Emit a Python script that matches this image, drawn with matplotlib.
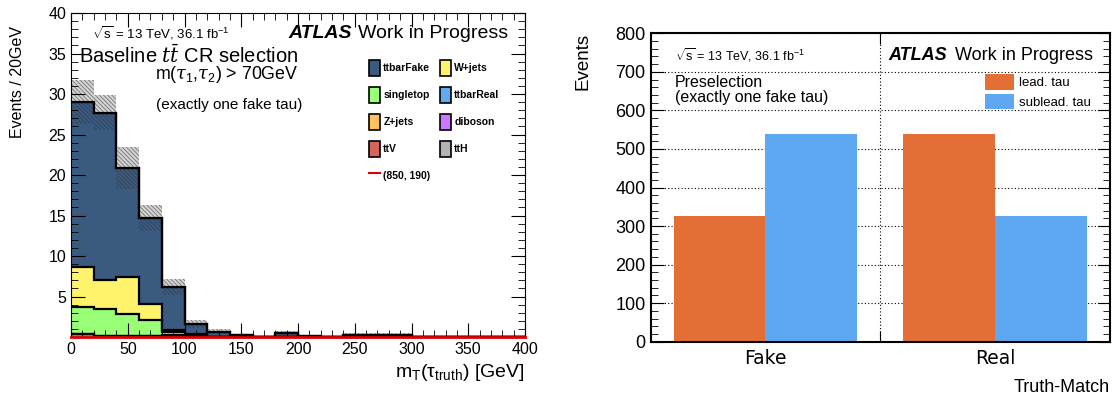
import matplotlib
matplotlib.use("Agg")
import matplotlib.pyplot as plt
import numpy as np
from matplotlib.patches import Patch
from matplotlib.lines import Line2D
from matplotlib.ticker import MultipleLocator

plt.rcParams['font.family'] = ['Liberation Sans', 'DejaVu Sans']
plt.rcParams['mathtext.fontset'] = 'custom'
plt.rcParams['mathtext.rm'] = 'Liberation Sans'
plt.rcParams['mathtext.it'] = 'DejaVu Serif:italic'
plt.rcParams['hatch.linewidth'] = 0.6

# ---- left panel data: mT(tau_truth), 20 GeV bins from 0 to 400 ----
edges = np.arange(0, 420, 20)
ttH       = [0.03, 0.02, 0.02, 0.01, 0.02, 0.01, 0, 0, 0, 0, 0, 0, 0, 0, 0, 0, 0, 0, 0, 0]
ttV       = [0.02, 0.02, 0.01, 0.01, 0.02, 0.01, 0, 0, 0, 0, 0, 0, 0, 0, 0, 0, 0, 0, 0, 0]
diboson   = [0.01, 0.01, 0.00, 0.00, 0.01, 0.00, 0, 0, 0, 0, 0, 0, 0, 0, 0, 0, 0, 0, 0, 0]
ttbarReal = [0.30, 0.10, 0.05, 0.05, 0.10, 0.05, 0.01, 0, 0, 0, 0, 0, 0, 0, 0, 0, 0, 0, 0, 0]
zjets     = [0.05, 0.03, 0.02, 0.02, 0.05, 0.02, 0, 0, 0, 0, 0, 0, 0, 0, 0, 0, 0, 0, 0, 0]
singletop = [3.29, 3.27, 2.70, 1.96, 0.40, 0.11, 0.02, 0, 0, 0, 0, 0, 0, 0, 0, 0, 0, 0, 0, 0]
wjets     = [4.90, 3.55, 4.60, 2.05, 0.25, 0.15, 0.02, 0, 0, 0, 0, 0, 0, 0, 0, 0, 0, 0, 0, 0]
ttbarFake = [20.4, 20.7, 13.5, 10.6, 5.35, 1.25, 0.60, 0.20, 0.05, 0.45, 0.08, 0.0,
             0.30, 0.30, 0.30, 0, 0, 0, 0, 0]
uncert    = [2.7, 2.2, 2.6, 1.6, 1.0, 0.5, 0.3, 0.12, 0.05, 0.25, 0.05, 0.0,
             0.15, 0.15, 0.15, 0, 0, 0, 0, 0]

# stack order bottom -> top
stack = [("ttH", ttH, "#b3b3b3"),
         ("ttV", ttV, "#d6645a"),
         ("diboson", diboson, "#cc77ff"),
         ("ttbarReal", ttbarReal, "#62aaee"),
         ("Z+jets", zjets, "#ffc25c"),
         ("singletop", singletop, "#99ff77"),
         ("W+jets", wjets, "#fff36b"),
         ("ttbarFake", ttbarFake, "#3a5a80")]

# ---- right panel data ----
categories = ["Fake", "Real"]
lead_tau = [327, 538]
sublead_tau = [539, 327]

fig = plt.figure(figsize=(11.13, 3.96), dpi=100)


def atlas_label(axis, x, y, size, gap):
    # "ATLAS" in bold italic, followed by "Work in Progress", right aligned at x
    t = axis.text(x, y, "Work in Progress", transform=axis.transAxes,
                  fontsize=size, ha="right", va="center")
    axis.annotate("ATLAS", xy=(0, 0.5), xycoords=t, xytext=(-gap, 0),
                  textcoords="offset points", fontsize=size, fontweight="bold",
                  fontstyle="italic", ha="right", va="center")


# ================= left =================
ax = fig.add_axes([0.0638, 0.149, 0.4079, 0.818])
bottom = np.zeros(len(edges) - 1)
for name, vals, col in stack:
    top = bottom + np.array(vals)
    ax.stairs(top, edges, baseline=bottom, fill=True, color=col, lw=0)
    bottom = top
# outlines
bottom = np.zeros(len(edges) - 1)
for name, vals, col in stack:
    top = bottom + np.array(vals)
    if np.any(np.array(vals) > 0.04):
        ax.stairs(top, edges, baseline=None, color="black", lw=1.6)
    bottom = top
total = bottom
unc = np.array(uncert)
xs = np.repeat(edges, 2)[1:-1]
lo = np.repeat(total - unc, 2)
hi = np.repeat(total + unc, 2)
tt = np.repeat(total, 2)
mask = np.repeat(unc > 0, 2)
ax.fill_between(xs, tt, hi, where=mask, facecolor="#d4d4d4", edgecolor="none", lw=0)
ax.fill_between(xs, lo, hi, where=mask, facecolor="none", edgecolor="#333333",
                hatch="\\\\\\\\\\\\\\\\", lw=0, alpha=0.6)
ax.stairs(total, edges, baseline=None, color="black", lw=1.6)
ax.plot([0, 400], [0, 0], color="#dd0000", lw=2, clip_on=False, zorder=5)

ax.set_xlim(0, 400)
ax.set_ylim(0, 40)
ax.xaxis.set_major_locator(MultipleLocator(50))
ax.xaxis.set_minor_locator(MultipleLocator(10))
ax.yaxis.set_major_locator(MultipleLocator(5))
ax.yaxis.set_minor_locator(MultipleLocator(1))
ax.tick_params(which="both", direction="in", top=True, right=True, labelsize=11.5)
ax.tick_params(which="major", length=10)
ax.tick_params(which="minor", length=5)
ax.set_yticks([5, 10, 15, 20, 25, 30, 35, 40])
ax.set_xlabel(r"m$_{\mathrm{T}}$($\mathrm{\tau_{truth}}$) [GeV]", fontsize=14, loc="right")
fig.text(0.016, 0.935, "Events / 20GeV", rotation=90, ha="center", va="top", fontsize=11.5)

ax.text(0.046, 0.938, r"$\sqrt{\mathrm{s}}$ = 13 TeV, 36.1 fb$^{\mathrm{-1}}$",
        transform=ax.transAxes, fontsize=9.5, va="center")
atlas_label(ax, 0.962, 0.938, 14, 4)
ax.text(0.50, 0.870, r"Baseline $t\bar{t}$ CR selection", transform=ax.transAxes,
        fontsize=14.5, ha="right", va="center")
ax.text(0.50, 0.809, r"m($\tau_1$,$\tau_2$) > 70GeV", transform=ax.transAxes,
        fontsize=12.8, ha="right", va="center")
ax.text(0.51, 0.716, "(exactly one fake tau)", transform=ax.transAxes,
        fontsize=11, ha="right", va="center")

handles = []
labels = []
order = ["ttbarFake", "singletop", "Z+jets", "ttV", None,
         "W+jets", "ttbarReal", "diboson", "ttH"]
cols = {n: c for n, v, c in stack}
for n in order:
    if n is None:
        handles.append(Line2D([], [], color="#dd0000", lw=1.5))
        labels.append("(850, 190)")
    else:
        handles.append(Patch(facecolor=cols[n], edgecolor="black", lw=1.2))
        labels.append(n)
leg = ax.legend(handles, labels, ncol=2, loc="upper left", bbox_to_anchor=(0.635, 0.885),
                frameon=False, prop={"weight": "bold", "size": 7.5},
                handlelength=1.1, handleheight=2.0, labelspacing=1.05,
                columnspacing=0.9, handletextpad=0.3)

# ================= right =================
ax2 = fig.add_axes([0.5845, 0.137, 0.4128, 0.779])
pos = np.arange(len(categories)) + 0.5
w = 0.40
ax2.bar(pos - w / 2, lead_tau, width=w, color="#e36f37", label="lead. tau", zorder=2)
ax2.bar(pos + w / 2, sublead_tau, width=w, color="#5ea8f2", label="sublead. tau", zorder=2)
ax2.set_xlim(0, 2)
ax2.set_ylim(0, 800)
ax2.set_xticks([1])
ax2.set_xticklabels([""])
ax2.set_xticks(pos, categories, minor=True)
ax2.tick_params(axis="x", which="minor", length=0, pad=5)
for t in ax2.get_xticklabels(minor=True):
    t.set_fontfamily("DejaVu Sans")
    t.set_fontsize(13.5)
ax2.yaxis.set_major_locator(MultipleLocator(100))
ax2.yaxis.set_minor_locator(MultipleLocator(20))
ax2.tick_params(axis="y", which="both", direction="in", left=True, right=True, labelsize=13)
ax2.tick_params(axis="y", which="major", length=9)
ax2.tick_params(axis="y", which="minor", length=5)
ax2.tick_params(axis="x", which="major", direction="in", top=True, length=8)
ax2.grid(True, which="major", color="black", linestyle=(0, (1, 2)), lw=0.8, zorder=1)
ax2.set_axisbelow(True)
for s in ax2.spines.values():
    s.set_linewidth(1.5)
ax2.set_ylabel("Events", fontsize=13.5, loc="top", labelpad=17)
ax2.set_xlabel("Truth-Match", fontsize=13, loc="right", labelpad=8)

ax2.text(0.053, 0.929, r"$\sqrt{\mathrm{s}}$ = 13 TeV, 36.1 fb$^{\mathrm{-1}}$",
         transform=ax2.transAxes, fontsize=9, va="center")
ax2.text(0.053, 0.816, "Preselection\n(exactly one fake tau)", transform=ax2.transAxes,
         fontsize=11.5, va="center", linespacing=1.0)
atlas_label(ax2, 0.963, 0.929, 13, 6)
ax2.legend(loc="upper right", bbox_to_anchor=(0.985, 0.905), frameon=False, fontsize=9.5,
           handlelength=2.2, handleheight=1.4, handletextpad=0.4, labelspacing=0.3)

fig.savefig("out.png", dpi=100)
